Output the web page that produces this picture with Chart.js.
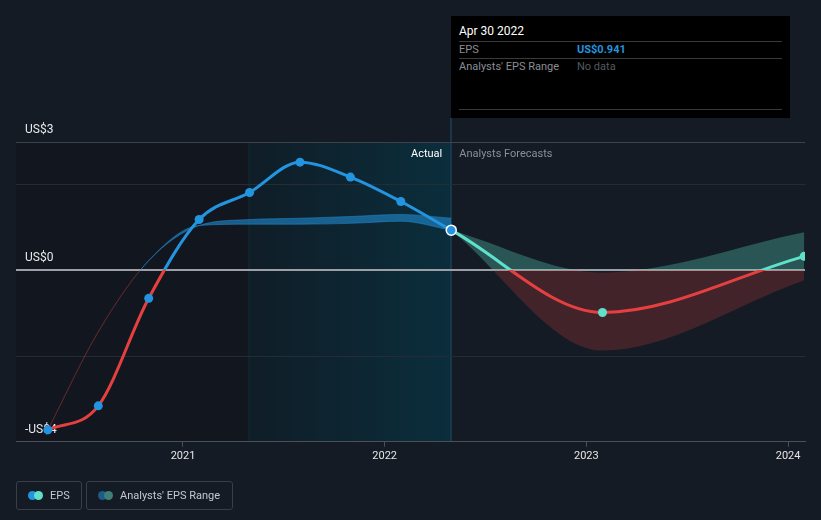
<!DOCTYPE html>
<html>
<head>
<meta charset="utf-8">
<script src="https://cdn.jsdelivr.net/npm/chart.js@4.4.1/dist/chart.umd.min.js"></script>
<style>
  body { margin: 0; background: #151b24; font-family: Roboto, 'Noto Sans', sans-serif; }
  #wrap { position: relative; width: 821px; height: 520px; }
  #tip { position: absolute; left: 451px; top: 16px; width: 339px; height: 102px; background: #000; }
  #tip .title { position: absolute; left: 8px; top: 8px; color: #fff; font-size: 12px; }
  #tip .sep { position: absolute; left: 8px; right: 8px; height: 1px; background: #3a3a3a; }
  #tip .lab { position: absolute; left: 8px; font-size: 11px; color: #8a8e94; }
  #tip .val { position: absolute; left: 126px; font-size: 11px; }
  .legend { position: absolute; top: 481px; height: 27px; border: 1px solid #393e48; border-radius: 3px; color: #c4c8ce; font-size: 11px; line-height: 27px; }
  .legend .dot { position: absolute; top: 9px; width: 9px; height: 9px; border-radius: 50%; }
</style>
</head>
<body>
<div id="wrap">
  <canvas id="epsChart"></canvas>
  <div id="tip">
    <div class="title">Apr 30 2022</div>
    <div class="sep" style="top:25px"></div>
    <div class="lab" style="top:27px">EPS</div>
    <div class="val" style="top:27px;color:#2394df;font-weight:bold">US$0.941</div>
    <div class="sep" style="top:42px"></div>
    <div class="lab" style="top:44px">Analysts' EPS Range</div>
    <div class="val" style="top:44px;color:#55595f">No data</div>
    <div class="sep" style="top:93px"></div>
  </div>
  <div class="legend" style="left:16px;width:64px">
    <span class="dot" style="left:11px;background:#2394df"></span>
    <span class="dot" style="left:17px;background:#5fe0ca"></span>
    <span style="position:absolute;left:33px">EPS</span>
  </div>
  <div class="legend" style="left:86px;width:145px">
    <span class="dot" style="left:11px;background:#1d5c86"></span>
    <span class="dot" style="left:17px;background:#3f7f78"></span>
    <span style="position:absolute;left:33px">Analysts' EPS Range</span>
  </div>
</div>
<script>
// dates as decimal years (quarter ends)
const pastDates = [2020.33, 2020.58, 2020.83, 2021.08, 2021.33, 2021.58, 2021.83, 2022.08, 2022.33];
const epsActual = [-3.72, -3.16, -0.65, 1.19, 1.82, 2.53, 2.18, 1.61, 0.941];
const pastRangeHigh = [-3.72, -1.43, 0.23, 1.05, 1.19, 1.22, 1.26, 1.31, 1.22];
const pastRangeLow = [-3.72, -1.43, 0.23, 1.05, 1.08, 1.08, 1.10, 1.15, 0.941];

const forecastDates = [2022.33, 2023.08, 2024.08];
const epsForecast = [0.941, -0.98, 0.33];
const forecastHigh = [0.941, -0.05, 0.89];
const forecastLow = [0.941, -1.87, -0.23];

const xTickYears = [2021, 2022, 2023, 2024];
const yGridValues = [-4, -2, 0, 2, 3];
const yLabelValues = [3, 0, -4];
const yLabels = ['US$3', 'US$0', '-US$4'];

const actualStart = 2021.33;
const forecastStart = 2022.33;

function pts(xs, ys) {
  return xs.map((x, i) => ({ x: x, y: ys[i] }));
}

// colour above / below zero
function splitColor(up, down) {
  return function (ctx) {
    const chart = ctx.chart;
    const area = chart.chartArea;
    if (!area) return up;
    const y0 = chart.scales.y.getPixelForValue(0);
    const stop = Math.min(1, Math.max(0, (y0 - area.top) / (area.bottom - area.top)));
    const g = chart.ctx.createLinearGradient(0, area.top, 0, area.bottom);
    g.addColorStop(0, up);
    g.addColorStop(stop, up);
    g.addColorStop(stop, down);
    g.addColorStop(1, down);
    return g;
  };
}

const backdrop = {
  id: 'backdrop',
  beforeDraw(chart) {
    const { ctx, chartArea: a, scales } = chart;
    const xa = scales.x.getPixelForValue(actualStart);
    const xf = scales.x.getPixelForValue(forecastStart);
    ctx.save();
    ctx.fillStyle = '#151b24';
    ctx.fillRect(0, 0, chart.width, chart.height);
    ctx.fillStyle = '#12171f';
    ctx.fillRect(a.left, a.top, xa - a.left, a.bottom - a.top);
    const g = ctx.createLinearGradient(xa, 0, xf, 0);
    g.addColorStop(0, '#0f1d27');
    g.addColorStop(1, '#0b2e3c');
    ctx.fillStyle = g;
    ctx.fillRect(xa, a.top, xf - xa, a.bottom - a.top);
    ctx.fillStyle = '#13303c';
    ctx.fillRect(xa - 1, a.top, 1, a.bottom - a.top);
    ctx.fillStyle = '#1a4154';
    ctx.fillRect(xf - 1, 118, 1.5, a.bottom - 118);
    ctx.restore();
  },
  beforeDatasetsDraw(chart) {
    const { ctx, scales } = chart;
    const xf = scales.x.getPixelForValue(forecastStart);
    ctx.save();
    ctx.font = '12px Roboto, sans-serif';
    ctx.textBaseline = 'middle';
    ctx.fillStyle = '#e8e8e8';
    ctx.textAlign = 'left';
    yLabelValues.forEach((v, i) => {
      ctx.fillText(yLabels[i], 25, scales.y.getPixelForValue(v) - 12);
    });
    const ty = scales.y.getPixelForValue(3) + 12;
    ctx.font = '11px Roboto, sans-serif';
    ctx.textAlign = 'right';
    ctx.fillStyle = '#ffffff';
    ctx.fillText('Actual', xf - 9, ty);
    ctx.textAlign = 'left';
    ctx.fillStyle = '#8a8f96';
    ctx.fillText('Analysts Forecasts', xf + 8, ty);
    ctx.restore();
  }
};

new Chart(document.getElementById('epsChart'), {
  type: 'line',
  data: {
    datasets: [
      {
        label: 'EPS',
        data: pts(pastDates, epsActual),
        borderColor: splitColor('#2394df', '#e5403f'),
        borderWidth: 3,
        cubicInterpolationMode: 'monotone',
        pointBackgroundColor: '#2394df',
        pointBorderColor: pastDates.map((d, i) => i === pastDates.length - 1 ? '#ffffff' : '#2394df'),
        pointBorderWidth: pastDates.map((d, i) => i === pastDates.length - 1 ? 1.5 : 0),
        pointRadius: pastDates.map((d, i) => i === pastDates.length - 1 ? 5 : 4.5),
        fill: false
      },
      {
        label: 'EPS forecast',
        data: pts(forecastDates, epsForecast),
        borderColor: splitColor('#5fe0ca', '#e5403f'),
        borderWidth: 3,
        cubicInterpolationMode: 'monotone',
        pointBackgroundColor: '#5fe0ca',
        pointBorderWidth: 0,
        pointRadius: [0, 4.5, 4.5],
        fill: false
      },
      {
        label: 'past high',
        data: pts(pastDates, pastRangeHigh),
        borderColor: splitColor('rgba(35,148,223,0.45)', 'rgba(229,64,64,0.22)'),
        borderWidth: 1,
        cubicInterpolationMode: 'monotone',
        pointRadius: 0,
        fill: false
      },
      {
        label: 'past low',
        data: pts(pastDates, pastRangeLow),
        borderColor: splitColor('rgba(35,148,223,0.45)', 'rgba(229,64,64,0.22)'),
        backgroundColor: 'rgba(35,148,223,0.55)',
        borderWidth: 1,
        cubicInterpolationMode: 'monotone',
        pointRadius: 0,
        fill: '-1'
      },
      {
        label: 'forecast high',
        data: pts(forecastDates, forecastHigh),
        borderWidth: 0,
        borderColor: 'rgba(0,0,0,0)',
        cubicInterpolationMode: 'monotone',
        pointRadius: 0,
        fill: false
      },
      {
        label: 'forecast low',
        data: pts(forecastDates, forecastLow),
        borderWidth: 0,
        borderColor: 'rgba(0,0,0,0)',
        backgroundColor: splitColor('rgba(88,214,192,0.31)', 'rgba(229,64,64,0.22)'),
        cubicInterpolationMode: 'monotone',
        pointRadius: 0,
        fill: '-1'
      }
    ]
  },
  options: {
    responsive: true,
    maintainAspectRatio: false,
    animation: false,
    layout: { padding: { left: 16, right: 16, top: 142, bottom: 54 } },
    scales: {
      x: {
        type: 'linear',
        min: 2020.172,
        max: 2024.084,
        afterBuildTicks: axis => { axis.ticks = xTickYears.map(v => ({ value: v })); },
        ticks: {
          color: '#e6e6e6',
          font: { family: 'Roboto', size: 11 },
          maxRotation: 0,
          autoSkip: false,
          padding: 3,
          callback: v => String(v)
        },
        grid: { drawOnChartArea: false, drawTicks: true, tickLength: 5, color: '#4a4f58' },
        border: { display: true, color: '#4a4f58', width: 1 }
      },
      y: {
        min: -4,
        max: 3,
        afterBuildTicks: axis => { axis.ticks = yGridValues.map(v => ({ value: v })); },
        ticks: { display: false },
        grid: {
          drawTicks: false,
          color: c => c.tick.value === 0 ? '#9c9fa5' : (c.tick.value === 3 ? '#3d424c' : '#262c35'),
          lineWidth: c => c.tick.value === 0 ? 2 : 1
        },
        border: { display: false }
      }
    },
    plugins: {
      legend: { display: false },
      tooltip: { enabled: false }
    }
  },
  plugins: [backdrop]
});
</script>
</body>
</html>
